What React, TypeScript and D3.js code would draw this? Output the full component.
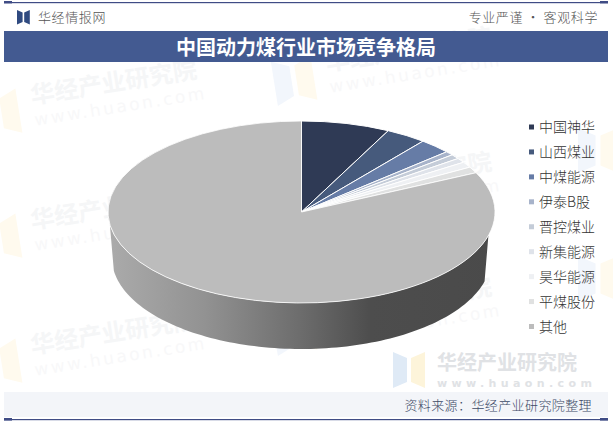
import React from 'react'
import * as d3 from 'd3'

const companies = ['中国神华', '山西煤业', '中煤能源', '伊泰B股', '晋控煤业', '新集能源', '昊华能源', '平煤股份', '其他']
const shares = [7.4, 3.4, 2.7, 0.7, 0.8, 0.8, 1.0, 1.1, 82.1]
const colors = ['#2f3a55', '#465a7c', '#667ca6', '#a7b3ca', '#c4ccd8', '#dfe3ea', '#eef0f3', '#e0e1e1', '#bcbcbc']

const width = 613
const height = 423
const cx = 301.5
const cy = 212
const rx = 193.5
const ry = 91
const depth = 46

const cjk = '"Noto Sans CJK SC", "Noto Sans", sans-serif'

// left, top position of the faint repeated watermark
const watermarkSpots = [
  [32, 104], [32, 229], [32, 354],
  [327, 71], [327, 196], [327, 321],
]
const edgeLogoSpots = [
  [578, 128], [578, 256],
]

const Logo: React.FC<{ x: number; y: number; s: number; a: string; b: string }> = ({ x, y, s, a, b }) => (
  <g transform={`translate(${x},${y}) scale(${s})`}>
    <path d="M0 0 L14 6 L14 30 L0 36 Z" fill={a} />
    <path d="M32 0 L18 6 L18 30 L32 36 Z" fill={b} />
  </g>
)

export default function App() {
  const pie = d3.pie<number>().sort(null)(shares)
  const arc = d3.arc<d3.PieArcDatum<number>>().innerRadius(0).outerRadius(rx)

  // side wall of the disc, front half only
  const angle = d3.scaleLinear().domain([0, 1]).range([(105 * Math.PI) / 180, (262 * Math.PI) / 180])
  const wall = d3
    .area<number>()
    .x0((t) => cx + rx * Math.sin(angle(t)))
    .y0((t) => cy - ry * Math.cos(angle(t)))
    .x1((t) => cx + (rx - 4) * Math.sin(angle(t)))
    .y1((t) => cy - ry * Math.cos(angle(t)) + depth)
  const wallPath = wall(d3.range(0, 1.001, 0.01))

  const legendY = d3.scalePoint<string>().domain(companies).range([127, 326.5])

  return (
    <svg
      width={width}
      height={height}
      viewBox={`0 0 ${width} ${height}`}
      style={{ position: 'absolute', left: 0, top: 0, background: '#fff', fontFamily: cjk }}
    >
      <defs>
        <linearGradient id="wallFill" gradientUnits="userSpaceOnUse" x1={108} x2={495} y1={0} y2={0}>
          <stop offset="0" stopColor="#ababab" />
          <stop offset="0.25" stopColor="#929292" />
          <stop offset="0.5" stopColor="#6c6c6c" />
          <stop offset="0.68" stopColor="#4d4d4d" />
          <stop offset="1" stopColor="#4a4a4a" />
        </linearGradient>
      </defs>

      {/* faint background watermarks */}
      {watermarkSpots.map(([x, y], i) => (
        <g key={i} transform={`rotate(-9 ${x} ${y})`}>
          <Logo x={x - 54} y={y - 18} s={1.25} a="#f2f6fc" b="#fffaee" />
          <text x={x} y={y} fontSize={24} fontWeight={700} fill="#f5f6f7">华经产业研究院</text>
          <text x={x} y={y + 22} fontSize={17} letterSpacing={2.6} fill="#f8f8f9" fontFamily="'DejaVu Sans', sans-serif">www.huaon.com</text>
        </g>
      ))}
      {edgeLogoSpots.map(([x, y], i) => (
        <Logo key={i} x={x} y={y} s={1.25} a="#f2f6fc" b="#fffaee" />
      ))}

      {/* header */}
      <rect x={4} y={2} width={604} height={1.2} fill="#3f4c85" />
      <rect x={4} y={1} width={8} height={2.4} fill="#3f4c85" />
      <rect x={600} y={1} width={8} height={2.4} fill="#3f4c85" />
      <Logo x={17} y={10} s={0.4} a="#2f4a80" b="#2f4a80" />
      <text x={38} y={22} fontSize={13} fontWeight={300} letterSpacing={0.6} fill="#555">华经情报网</text>
      <text x={598} y={22} fontSize={13} fontWeight={300} letterSpacing={0.6} fill="#555" textAnchor="end">专业严谨 • 客观科学</text>
      <rect x={4} y={31} width={604} height={31} fill="#435a91" />
      <text x={306} y={55} fontSize={20} fontWeight={700} fill="#fff" textAnchor="middle">中国动力煤行业市场竞争格局</text>

      {/* disc */}
      <path d={wallPath ?? ''} fill="url(#wallFill)" />
      <g transform={`translate(${cx},${cy}) scale(1,${ry / rx})`}>
        {pie.map((d, i) => (
          <path
            key={companies[i]}
            d={arc(d) ?? ''}
            fill={colors[i]}
            stroke="#fff"
            strokeWidth={i === pie.length - 1 ? 0.8 : 1}
            vectorEffect="non-scaling-stroke"
          />
        ))}
      </g>

      {/* legend */}
      {companies.map((name, i) => (
        <g key={name} transform={`translate(0,${legendY(name)})`}>
          <rect x={529} y={-2.5} width={5} height={5} fill={colors[i]} />
          <text x={539} y={5} fontSize={14} fontWeight={300} fill="#333">{name}</text>
        </g>
      ))}

      {/* bottom right watermark */}
      <Logo x={393} y={352} s={1} a="#dfeaf6" b="#fdf4da" />
      <text x={437} y={370} fontSize={20} fontWeight={700} fill="#e0e2e5">华经产业研究院</text>
      <text x={437} y={387} fontSize={11} fontWeight={700} letterSpacing={4.4} fill="#e0e2e5" fontFamily="'DejaVu Sans', sans-serif">www.huaon.com</text>

      {/* footer */}
      <rect x={4} y={392} width={604} height={25} fill="#f3f5f9" />
      <text x={592} y={410} fontSize={13} fontWeight={300} letterSpacing={0.4} fill="#3d4a66" textAnchor="end">资料来源：华经产业研究院整理</text>
      <rect x={4} y={419} width={604} height={1.2} fill="#3f4c85" />
      <rect x={4} y={418} width={8} height={2.6} fill="#3f4c85" />
      <rect x={600} y={418} width={8} height={2.6} fill="#3f4c85" />
    </svg>
  )
}
